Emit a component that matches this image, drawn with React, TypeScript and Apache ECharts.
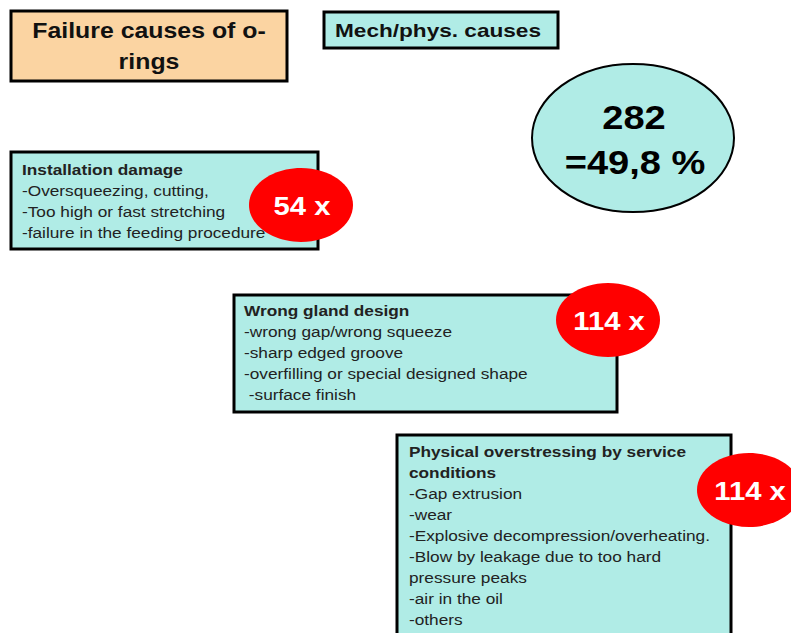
import React, { useEffect, useRef } from "react";
import * as echarts from "echarts";

const TITLE_LINES = ["Failure causes of o-", "rings"];
const GROUP_LABEL = "Mech/phys. causes";
const TOTAL_COUNT = 282;
const TOTAL_SHARE = "49,8";

const CAUSE_TITLES = [
  ["Installation damage"],
  ["Wrong gland design"],
  ["Physical overstressing by service", "conditions"],
];
const CAUSE_ITEMS = [
  ["-Oversqueezing, cutting,", "-Too high or fast stretching", "-failure in the feeding procedure"],
  ["-wrong gap/wrong squeeze", "-sharp edged groove", "-overfilling or special designed shape", " -surface finish"],
  [
    "-Gap extrusion",
    "-wear",
    "-Explosive decompression/overheating.",
    "-Blow by leakage due to too hard",
    "pressure peaks",
    "-air in the oil",
    "-others",
  ],
];
const CAUSE_COUNTS = [54, 114, 114];

// layout (not data)
const BOXES = [
  { x: 11, y: 152, w: 307, h: 97, tx: 22, ty: 169, lh: 21, badge: { cx: 301, cy: 205 } },
  { x: 234, y: 295, w: 383, h: 117, tx: 244, ty: 310, lh: 21, badge: { cx: 608, cy: 320 } },
  { x: 397, y: 435, w: 334, h: 240, tx: 409, ty: 451, lh: 21, badge: { cx: 749, cy: 490 } },
];

const CYAN = "#B0ECE6";
const PEACH = "#FBD4A2";
const FONT = "'Liberation Sans', Arial, sans-serif";

function txt(x: number, y: number, text: string, font: string, fill: string, align: string, sx: number) {
  return {
    type: "text",
    x,
    y,
    scaleX: sx,
    style: { text, font, fill, align, verticalAlign: "middle" },
  };
}

export default function App() {
  const ref = useRef<HTMLDivElement>(null);
  useEffect(() => {
    const chart = echarts.init(ref.current!, null, { renderer: "svg" });
    const elements: any[] = [];
    // title box
    elements.push({
      type: "rect",
      shape: { x: 11, y: 11, width: 276, height: 70 },
      style: { fill: PEACH, stroke: "#000", lineWidth: 3 },
    });
    TITLE_LINES.forEach((t, i) =>
      elements.push(txt(149, 31 + i * 31, t, `bold 22px ${FONT}`, "#111", "center", 1.13))
    );
    // group label
    elements.push({
      type: "rect",
      shape: { x: 324, y: 12, width: 234, height: 36 },
      style: { fill: CYAN, stroke: "#000", lineWidth: 3 },
    });
    elements.push(txt(438, 30, GROUP_LABEL, `bold 19px ${FONT}`, "#111", "center", 1.19));
    // total ellipse
    elements.push({
      type: "ellipse",
      shape: { cx: 633, cy: 138, rx: 101, ry: 74 },
      style: { fill: CYAN, stroke: "#000", lineWidth: 2 },
    });
    elements.push(txt(634, 117, String(TOTAL_COUNT), `bold 34px ${FONT}`, "#000", "center", 1.12));
    elements.push(txt(635, 162, `=${TOTAL_SHARE} %`, `bold 34px ${FONT}`, "#000", "center", 1.12));
    // cause boxes
    BOXES.forEach((b, i) => {
      elements.push({
        type: "rect",
        shape: { x: b.x, y: b.y, width: b.w, height: b.h },
        style: { fill: CYAN, stroke: "#000", lineWidth: 3 },
      });
      let line = 0;
      CAUSE_TITLES[i].forEach((t) => {
        elements.push(txt(b.tx, b.ty + line * b.lh, t, `bold 15px ${FONT}`, "#222", "left", 1.15));
        line++;
      });
      CAUSE_ITEMS[i].forEach((t) => {
        elements.push(txt(b.tx, b.ty + line * b.lh, t, `15px ${FONT}`, "#222", "left", 1.15));
        line++;
      });
      elements.push({
        type: "ellipse",
        shape: { cx: b.badge.cx, cy: b.badge.cy, rx: 52, ry: 37 },
        style: { fill: "#FF0000", stroke: "none" },
      });
      elements.push(
        txt(b.badge.cx + 1, b.badge.cy + 1, `${CAUSE_COUNTS[i]} x`, `bold 25px ${FONT}`, "#fff", "center", 1.17)
      );
    });
    chart.setOption({ animation: false, graphic: { elements } });
    return () => chart.dispose();
  }, []);
  return (
    <div
      ref={ref}
      style={{ position: "fixed", left: 0, top: 0, width: 791, height: 633, background: "#fff" }}
    />
  );
}
